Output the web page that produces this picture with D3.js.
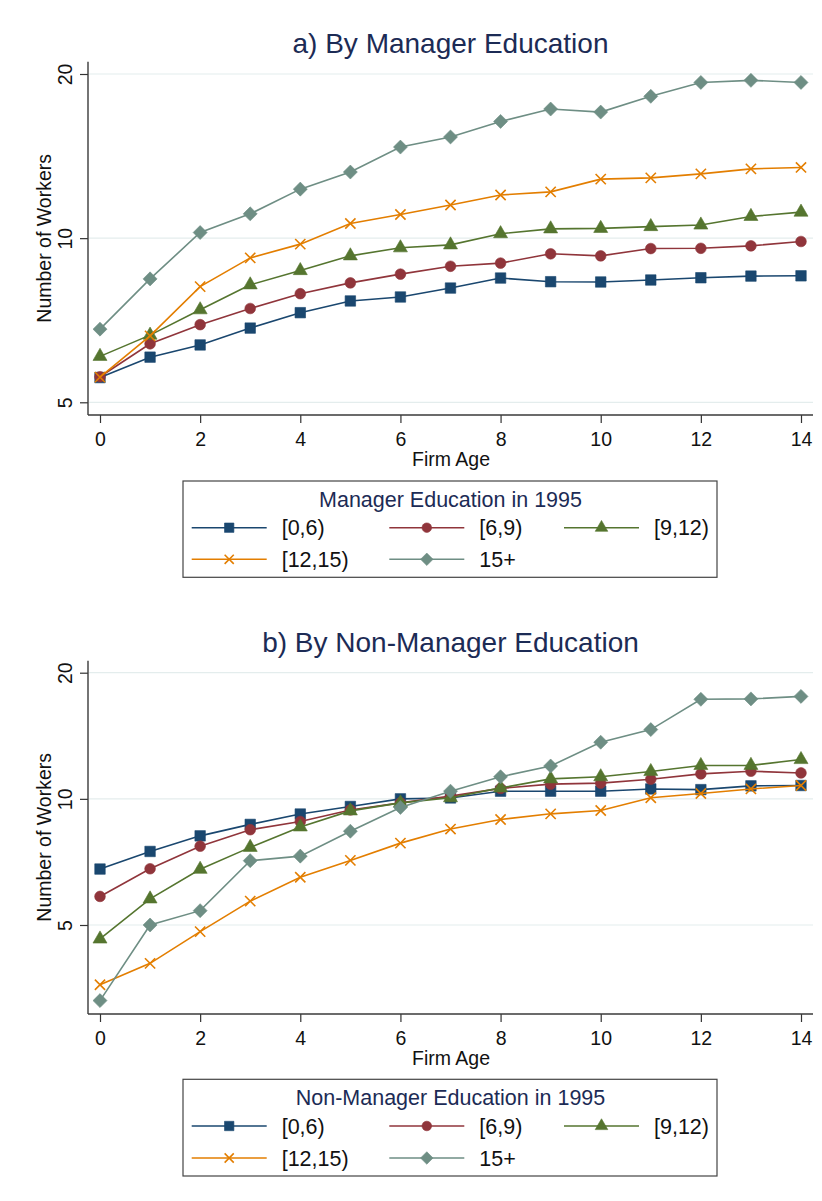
<!DOCTYPE html>
<html>
<head>
<meta charset="utf-8">
<script src="https://cdn.jsdelivr.net/npm/d3@7"></script>
<style>
  html, body { margin: 0; padding: 0; background: #fff; }
  svg { display: block; font-family: "Liberation Sans", Arial, sans-serif; }
</style>
</head>
<body>
<div id="chart"></div>
<script>
// firm age (x) and education groups
const ages = [0, 1, 2, 3, 4, 5, 6, 7, 8, 9, 10, 11, 12, 13, 14];
const groups = ['[0,6)', '[6,9)', '[9,12)', '[12,15)', '15+'];
const yTicks = [5, 10, 20];
const xTicks = [0, 2, 4, 6, 8, 10, 12, 14];

// a) by manager education
const mgr0to6 = [5.55, 6.05, 6.37, 6.84, 7.30, 7.67, 7.80, 8.10, 8.45, 8.32, 8.31, 8.38, 8.46, 8.52, 8.53];
const mgr6to9 = [5.57, 6.40, 6.94, 7.43, 7.91, 8.28, 8.59, 8.88, 9.00, 9.36, 9.28, 9.57, 9.58, 9.68, 9.86];
const mgr9to12 = [6.07, 6.64, 7.39, 8.21, 8.72, 9.28, 9.60, 9.72, 10.19, 10.40, 10.42, 10.50, 10.57, 10.96, 11.16];
const mgr12to15 = [5.56, 6.62, 8.15, 9.20, 9.75, 10.64, 11.05, 11.50, 12.00, 12.16, 12.83, 12.90, 13.12, 13.40, 13.48];
const mgr15plus = [6.81, 8.42, 10.24, 11.08, 12.30, 13.22, 14.69, 15.33, 16.37, 17.25, 17.03, 18.20, 19.30, 19.47, 19.30];

// b) by non-manager education
const non0to6 = [6.80, 7.49, 8.16, 8.69, 9.20, 9.59, 10.00, 10.05, 10.43, 10.43, 10.43, 10.56, 10.52, 10.74, 10.76];
const non6to9 = [5.85, 6.81, 7.71, 8.44, 8.83, 9.41, 9.78, 10.15, 10.59, 10.84, 10.90, 11.14, 11.47, 11.64, 11.53];
const non9to12 = [4.63, 5.77, 6.79, 7.66, 8.57, 9.36, 9.78, 10.06, 10.62, 11.16, 11.29, 11.62, 12.01, 12.02, 12.41];
const non12to15 = [3.60, 4.05, 4.82, 5.70, 6.50, 7.13, 7.84, 8.47, 8.93, 9.21, 9.38, 10.06, 10.30, 10.56, 10.76];
const non15plus = [3.30, 5.00, 5.41, 7.12, 7.30, 8.37, 9.54, 10.43, 11.29, 11.98, 13.65, 14.63, 17.28, 17.32, 17.56];

// stata s2color
const colors = ['#1a476f', '#90353b', '#55752f', '#e37e00', '#6e8e84'];
const symbols = [d3.symbolSquare, d3.symbolCircle, d3.symbolTriangle, d3.symbolTimes, d3.symbolDiamond2];
const symbolSizes = [110, 90, 85, 70, 125];
const NAVY = '#1c2b55';

const W = 822;
const H = 1201;
const LEFT = 88;
const RIGHT = 813;

const svg = d3.select('#chart').append('svg').attr('width', W).attr('height', H);

function drawPanel(p) {
  const g = svg.append('g').attr('class', 'panel');

  const x = d3.scaleLinear().domain([0, 14]).range([100, 801]);
  const y = d3.scaleLog().domain([5, 20]).range([p.y5, p.y20]);

  // title
  g.append('text')
    .attr('x', (LEFT + RIGHT) / 2)
    .attr('y', p.titleY)
    .attr('text-anchor', 'middle')
    .attr('font-size', 28)
    .attr('fill', NAVY)
    .text(p.title);

  // grid
  g.append('g')
    .selectAll('line')
    .data(yTicks)
    .enter()
    .append('line')
    .attr('x1', LEFT + 1)
    .attr('x2', RIGHT)
    .attr('y1', (d) => y(d))
    .attr('y2', (d) => y(d))
    .attr('stroke', '#e4eded')
    .attr('stroke-width', 1.2);

  // y axis
  const yAxis = g.append('g')
    .attr('transform', `translate(${LEFT},0)`)
    .call(d3.axisLeft(y).tickValues(yTicks).tickSize(8).tickFormat(d3.format('d')));
  yAxis.select('.domain').remove();
  yAxis.selectAll('.tick line').attr('stroke', '#333').attr('stroke-width', 1.2);
  yAxis.selectAll('.tick text')
    .attr('transform', 'rotate(-90)')
    .attr('x', 0)
    .attr('y', -16)
    .attr('dy', 0)
    .attr('text-anchor', 'middle')
    .attr('font-size', 19.5)
    .attr('font-family', null)
    .attr('fill', '#111');

  // x axis
  const xAxis = g.append('g')
    .attr('transform', `translate(0,${p.plotBottom})`)
    .call(d3.axisBottom(x).tickValues(xTicks).tickSize(8));
  xAxis.select('.domain').remove();
  xAxis.selectAll('.tick line').attr('stroke', '#333').attr('stroke-width', 1.2);
  xAxis.selectAll('.tick text')
    .attr('y', 31)
    .attr('dy', 0)
    .attr('font-size', 19.5)
    .attr('font-family', null)
    .attr('fill', '#111');

  // axis lines
  g.append('line')
    .attr('x1', LEFT).attr('x2', LEFT)
    .attr('y1', p.plotTop).attr('y2', p.plotBottom)
    .attr('stroke', '#3a3a3a').attr('stroke-width', 1.4);
  g.append('line')
    .attr('x1', LEFT).attr('x2', RIGHT)
    .attr('y1', p.plotBottom).attr('y2', p.plotBottom)
    .attr('stroke', '#3a3a3a').attr('stroke-width', 1.4);

  // axis titles
  g.append('text')
    .attr('x', 451)
    .attr('y', p.plotBottom + 51)
    .attr('text-anchor', 'middle')
    .attr('font-size', 19.5)
    .attr('fill', '#111')
    .text('Firm Age');
  g.append('text')
    .attr('transform', `translate(50.5,${(p.plotTop + p.plotBottom) / 2}) rotate(-90)`)
    .attr('text-anchor', 'middle')
    .attr('font-size', 19.5)
    .attr('fill', '#111')
    .text('Number of Workers');

  // series
  const line = d3.line().x((d) => x(d[0])).y((d) => y(d[1]));
  p.series.forEach((vals, i) => {
    const pts = ages.map((a, j) => [a, vals[j]]);
    const sg = g.append('g').attr('class', 'series');
    sg.append('path')
      .attr('d', line(pts))
      .attr('fill', 'none')
      .attr('stroke', colors[i])
      .attr('stroke-width', 1.6);
    const isStroke = symbols[i] === d3.symbolTimes;
    sg.selectAll('path.mk')
      .data(pts)
      .enter()
      .append('path')
      .attr('class', 'mk')
      .attr('transform', (d) => `translate(${x(d[0])},${y(d[1])})`)
      .attr('d', d3.symbol(symbols[i], symbolSizes[i]))
      .attr('fill', isStroke ? 'none' : colors[i])
      .attr('stroke', colors[i])
      .attr('stroke-width', isStroke ? 1.6 : 0.6);
  });

  // legend
  const lg = g.append('g').attr('class', 'legend');
  lg.append('rect')
    .attr('x', 183)
    .attr('y', p.legendTop)
    .attr('width', 717 - 183)
    .attr('height', p.legendBottom - p.legendTop)
    .attr('fill', '#fff')
    .attr('stroke', '#444')
    .attr('stroke-width', 1.2);
  lg.append('text')
    .attr('x', 450.5)
    .attr('y', p.legTitleY)
    .attr('text-anchor', 'middle')
    .attr('font-size', 21.5)
    .attr('fill', NAVY)
    .text(p.legendTitle);

  const colX = [191.7, 389.3, 564];
  const rows = [p.row1, p.row2];
  groups.forEach((name, i) => {
    const cx = colX[i % 3];
    const cy = rows[Math.floor(i / 3)];
    const item = lg.append('g');
    item.append('line')
      .attr('x1', cx).attr('x2', cx + 75)
      .attr('y1', cy).attr('y2', cy)
      .attr('stroke', colors[i])
      .attr('stroke-width', 1.6);
    const isStroke = symbols[i] === d3.symbolTimes;
    item.append('path')
      .attr('transform', `translate(${cx + 37.5},${cy})`)
      .attr('d', d3.symbol(symbols[i], symbolSizes[i] * 0.8))
      .attr('fill', isStroke ? 'none' : colors[i])
      .attr('stroke', colors[i])
      .attr('stroke-width', isStroke ? 1.6 : 0.6);
    item.append('text')
      .attr('x', cx + 90)
      .attr('y', cy + 7.5)
      .attr('font-size', 21.5)
      .attr('fill', '#111')
      .text(name);
  });
}

drawPanel({
  title: 'a) By Manager Education',
  legendTitle: 'Manager Education in 1995',
  series: [mgr0to6, mgr6to9, mgr9to12, mgr12to15, mgr15plus],
  titleY: 52.5, plotTop: 61.7, plotBottom: 415, y5: 402.3, y20: 74,
  legendTop: 481, legendBottom: 577.3, legTitleY: 507, row1: 527.7, row2: 559.3,
});

drawPanel({
  title: 'b) By Non-Manager Education',
  legendTitle: 'Non-Manager Education in 1995',
  series: [non0to6, non6to9, non9to12, non12to15, non15plus],
  titleY: 651.7, plotTop: 660.7, plotBottom: 1014, y5: 925, y20: 672.7,
  legendTop: 1079.3, legendBottom: 1176, legTitleY: 1105, row1: 1126, row2: 1158,
});
</script>
</body>
</html>
